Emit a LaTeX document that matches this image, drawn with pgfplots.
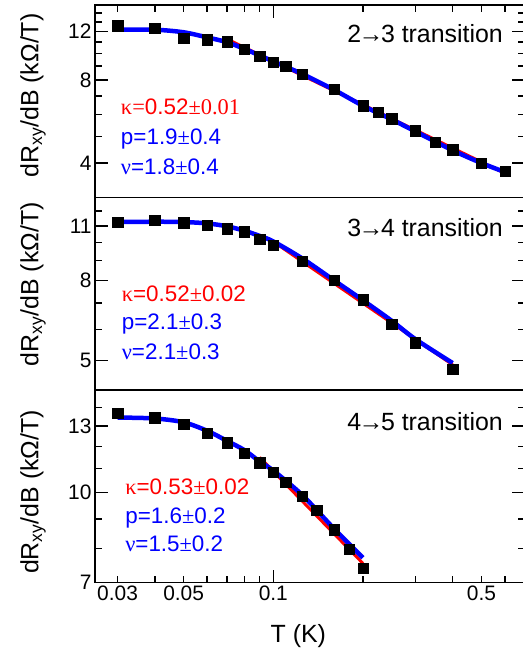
\documentclass[border=0pt]{standalone}
\usepackage{fontspec}
\setmainfont{Liberation Sans}
\newfontfamily\sym{Liberation Serif}
\usepackage{pgfplots}
\pgfplotsset{compat=1.18}

% measured points and fits, one table per panel
\pgfplotstableread{
T v
0.03 12.61
0.04 12.34
0.05 11.35
0.06 11.22
0.07 11.02
0.08 10.39
0.09 9.79
0.10 9.32
0.11 9.00
0.125 8.43
0.16 7.42
0.20 6.46
0.225 6.12
0.25 5.79
0.30 5.24
0.35 4.76
0.40 4.48
0.50 4.00
0.60 3.73
}\ptsA
\pgfplotstableread{
T v
0.03 12.2
0.04 12.2
0.05 11.94
0.06 11.44
0.07 10.99
0.08 10.39
0.09 9.84
0.10 9.36
0.125 8.43
0.16 7.38
0.20 6.46
0.25 5.76
0.30 5.21
0.40 4.45
0.50 4.00
0.60 3.71
}\blueA
\pgfplotstableread{
T v
0.07 11.28
0.60 3.67
}\redA

\pgfplotstableread{
T v
0.03 11.26
0.04 11.39
0.05 11.22
0.06 11.05
0.07 10.83
0.08 10.64
0.09 10.20
0.10 9.83
0.125 8.94
0.16 8.00
0.20 7.15
0.25 6.19
0.30 5.56
0.40 4.75
}\ptsB
\pgfplotstableread{
T v
0.03 11.26
0.04 11.28
0.05 11.26
0.06 11.17
0.07 10.98
0.08 10.70
0.09 10.38
0.10 10.05
0.125 9.10
0.16 8.00
0.20 7.12
0.25 6.31
0.30 5.67
0.40 4.93
}\blueB
\pgfplotstableread{
T v
0.10 10.04
0.40 4.88
}\redB

\pgfplotstableread{
T v
0.03 13.69
0.04 13.45
0.05 13.10
0.06 12.63
0.07 12.17
0.08 11.68
0.09 11.24
0.10 10.83
0.11 10.41
0.125 9.86
0.14 9.32
0.16 8.63
0.18 7.99
0.20 7.41
}\ptsC
\pgfplotstableread{
T v
0.03 13.45
0.04 13.40
0.05 13.20
0.06 12.76
0.07 12.26
0.08 11.82
0.09 11.30
0.10 10.90
0.125 9.90
0.16 8.66
0.20 7.72
}\blueC
\pgfplotstableread{
T v
0.09 11.49
0.20 7.55
}\redC

\newcommand\arr{\kern-0.1em→\kern-0.1em}

\pgfplotsset{
  every axis/.append style={
    scale only axis,
    width=430bp, height=192.5bp,
    xmin=0.0252, xmax=0.7,
    axis line style={line width=1.8bp},
    tick style={line width=1.5bp, black},
    major tick length=13bp, minor tick length=7bp,
    /pgf/number format/assume math mode=true,
    ticklabel style={font=\fontsize{21}{25}\selectfont},
    ylabel={dR\textsubscript{xy}/dB (kΩ/T)},
    ylabel style={anchor=center, font=\fontsize{25}{30}\selectfont},
    ytick pos=both, yticklabel pos=left,
  },
  mypts/.style={only marks, mark=square*, mark size=5.2bp, black},
  myred/.style={red, line width=3bp, no marks},
  myblue/.style={blue, line width=4.5bp, no marks, smooth},
}
\tikzset{
  mylbl/.style={anchor=base west, inner sep=0pt, font=\fontsize{22.5}{27}\selectfont},
  mytrans/.style={anchor=base east, inner sep=0pt, font=\fontsize{25}{30}\selectfont},
}

\begin{document}
\begin{tikzpicture}
\begin{axis}[xmode=log, ymode=log, name=top,
  ymin=3, ymax=15,
  ytick={4,8,12}, yticklabels={4,8,12},
  minor ytick={5,6,7,9,10,11,13,14},
  xtick={0.1}, xticklabels={},
  minor xtick={0.03,0.04,0.05,0.06,0.07,0.08,0.09,0.2,0.3,0.4,0.5,0.6},
  xtick pos=right,
  ylabel style={at={(rel axis cs:-0.144,0.53)}},
]
\addplot[myred] table {\redA};
\addplot[myblue] table {\blueA};
\addplot[mypts] table {\ptsA};
\node[mytrans] at (rel axis cs:0.949,0.804) {2\arr 3 transition};
\node[mylbl, red] at (rel axis cs:0.060,0.429) {{\sym κ=}0.52{\sym ±0.01}};
\node[mylbl, blue] at (rel axis cs:0.060,0.275) {p=1.9{\sym ±}0.4};
\node[mylbl, blue] at (rel axis cs:0.060,0.117) {{\sym ν}=1.8{\sym ±}0.4};
\end{axis}
\begin{axis}[xmode=log, ymode=log, name=mid, at={(top.south west)}, anchor=north west,
  ymin=4.21, ymax=13,
  ytick={5,8,11}, yticklabels={5,8,11},
  minor ytick={6,7,9,10,12},
  xtick=\empty, xminorticks=false,
  ylabel style={at={(rel axis cs:-0.144,0.55)}},
]
\addplot[myred] table {\redB};
\addplot[myblue] table {\blueB};
\addplot[mypts] table {\ptsB};
\node[mytrans] at (rel axis cs:0.949,0.796) {3\arr 4 transition};
\node[mylbl, red] at (rel axis cs:0.062,0.459) {{\sym κ}=0.52{\sym ±}0.02};
\node[mylbl, blue] at (rel axis cs:0.062,0.312) {p=2.1{\sym ±}0.3};
\node[mylbl, blue] at (rel axis cs:0.062,0.156) {{\sym ν}=2.1{\sym ±}0.3};
\end{axis}
\begin{axis}[xmode=log, ymode=log, name=bot, at={(mid.south west)}, anchor=north west,
  ymin=7, ymax=15,
  ytick={7,10,13}, yticklabels={7,10,13},
  minor ytick={8,9,11,12,14},
  xtick={0.1}, xticklabels={0.1},
  minor xtick={0.04,0.06,0.07,0.08,0.09,0.2,0.3,0.4,0.6},
  extra x ticks={0.03,0.05,0.5}, extra x tick labels={0.03,0.05,0.5},
  extra x tick style={major tick length=7bp},
  xtick pos=left,
  xlabel={T (K)},
  xlabel style={at={(rel axis cs:0.473,0)}, anchor=base, yshift=-60.5bp,
    font=\fontsize{25}{30}\selectfont},
  ylabel style={at={(rel axis cs:-0.144,0.47)}},
]
\addplot[myred] table {\redC};
\addplot[myblue] table {\blueC};
\addplot[mypts] table {\ptsC};
\node[mytrans] at (rel axis cs:0.949,0.789) {4\arr 5 transition};
\node[mylbl, red] at (rel axis cs:0.070,0.455) {{\sym κ}=0.53{\sym ±}0.02};
\node[mylbl, blue] at (rel axis cs:0.070,0.308) {p=1.6{\sym ±}0.2};
\node[mylbl, blue] at (rel axis cs:0.070,0.160) {{\sym ν}=1.5{\sym ±}0.2};
\end{axis}
\pgfresetboundingbox
\path ([shift={(-95bp,5bp)}]top.north west) rectangle ([shift={(428bp,-648bp)}]top.north west);
\end{tikzpicture}
\end{document}
